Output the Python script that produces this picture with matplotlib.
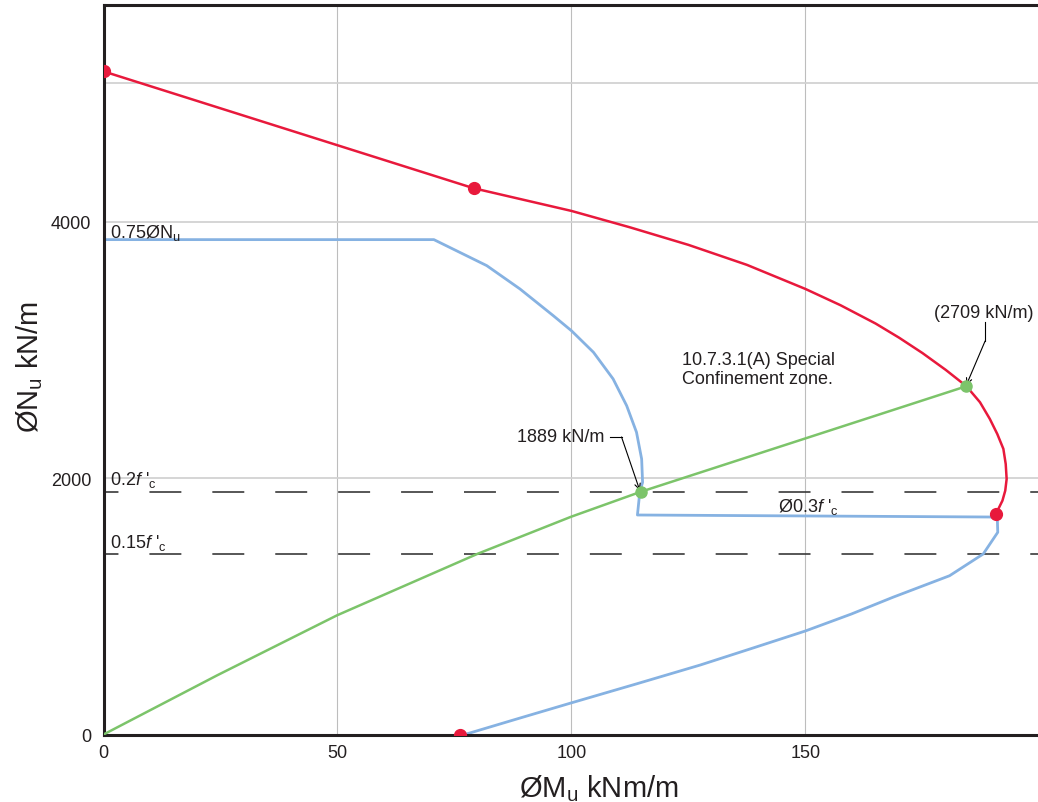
import matplotlib
matplotlib.use("Agg")
import matplotlib.pyplot as plt

plt.rcParams['font.family'] = ['Liberation Sans', 'DejaVu Sans']
plt.rcParams['mathtext.fontset'] = 'custom'
plt.rcParams['mathtext.rm'] = 'Liberation Sans'
plt.rcParams['mathtext.it'] = 'Liberation Sans:italic'
plt.rcParams['lines.scale_dashes'] = False

# interaction diagram (nominal, red)
red_x = [0, 79.1, 100, 112.5, 125, 137.5, 150, 157.5, 165, 170, 175, 180, 184.4,
         187.3, 189.4, 191.0, 192.3, 192.8, 193.0, 192.7, 192.1, 190.7]
red_y = [5175, 4263, 4086, 3958, 3821, 3665, 3477, 3350, 3207, 3097, 2977, 2845, 2718,
         2593, 2463, 2345, 2229, 2111, 1994, 1903, 1825, 1721]
red_pts_x = [0, 79.1, 190.7, 76.1]
red_pts_y = [5175, 4263, 1721, 0]

# design curve (blue)
blue_x = [0, 70.6, 81.9, 89.0, 96.1, 100.0, 104.7, 108.9, 111.8, 113.9, 115.0, 115.2, 114.6, 114.1,
          191.0, 191.1, 188.0, 180.8, 168.7, 159.8, 150.0, 138.8, 127.5, 113.8, 99.9, 88.5, 77.2]
blue_y = [3862, 3862, 3659, 3477, 3269, 3151, 2983, 2775, 2566, 2359, 2150, 1968, 1890, 1713,
          1697, 1578, 1409, 1239, 1071, 940, 808, 675, 542, 394, 246, 123, 0]

# load path (green)
green_x = [0, 24.3, 49.9, 80.0, 99.9, 114.8, 184.4]
green_y = [0, 462, 930, 1411, 1699, 1894, 2718]
green_pts_x = [114.8, 184.4]
green_pts_y = [1894, 2718]

lim_02 = 1894
lim_015 = 1411

xticks = [0, 50, 100, 150]
yticks = [0, 2000, 4000]
ygrid = [2000, 4000, 5085]

RED = '#e8193c'
BLUE = '#86b2e2'
GREEN = '#7cc46a'
TXT = '#231f20'

fig = plt.figure(figsize=(10.38, 8.03), dpi=100)
ax = fig.add_axes([103.5 / 1038, 67.5 / 803, 934.5 / 1038, 729.5 / 803])
ax.set_xlim(0, 199.7)
ax.set_ylim(0, 5693)

# grid
for x in xticks[1:]:
    ax.axvline(x, color='#bdbdbd', lw=0.8, zorder=0)
for y in ygrid:
    ax.axhline(y, color='#d2d2d2', lw=1.3, zorder=0)

# limit lines
for y in [lim_02, lim_015]:
    ax.axhline(y, color='#3a3a3a', lw=1.2, linestyle=(12.6, (23, 22.3)), zorder=1)

ax.plot(blue_x, blue_y, color=BLUE, lw=2.0, zorder=2)
ax.plot(green_x, green_y, color=GREEN, lw=1.8, zorder=3)
ax.plot(red_x, red_y, color=RED, lw=1.8, zorder=4)
ax.plot(red_pts_x, red_pts_y, 'o', color=RED, ms=8.5, zorder=5)
ax.plot(green_pts_x, green_pts_y, 'o', color=GREEN, ms=8, zorder=5)

# labels on lines
ax.text(1.4, 3885, '0.75ØN$_\\mathregular{u}$', fontsize=13, color=TXT, va='baseline')
ax.text(1.4, 1955, "0.2$\\mathit{f}$ '$_\\mathregular{c}$", fontsize=13, color=TXT, va='baseline')
ax.text(1.4, 1463, "0.15$\\mathit{f}$ '$_\\mathregular{c}$", fontsize=13, color=TXT, va='baseline')
ax.text(144.1, 1744, "Ø0.3$\\mathit{f}$ '$_\\mathregular{c}$", fontsize=13, color=TXT, va='baseline')
ax.text(123.6, 2853, '10.7.3.1(A) Special\nConfinement zone.', fontsize=13, color=TXT,
        va='center', linespacing=1.1)

# 1889 callout
ax.text(107.0, 2322, '1889 kN/m', fontsize=13, color=TXT, ha='right', va='center')
ax.plot([108.2, 110.7], [2322, 2322], color='black', lw=0.8)
ax.annotate('', xy=(114.6, 1905), xytext=(110.7, 2322),
            arrowprops=dict(arrowstyle='->', color='black', lw=0.8, shrinkA=0, shrinkB=0))

# 2709 callout
ax.text(188.1, 3297, '(2709 kN/m)', fontsize=13, color=TXT, ha='center', va='center')
ax.plot([188.4, 188.4], [3219, 3071], color='black', lw=0.8)
ax.annotate('', xy=(184.4, 2728), xytext=(188.4, 3071),
            arrowprops=dict(arrowstyle='->', color='black', lw=0.8, shrinkA=0, shrinkB=0))

ax.set_xticks(xticks)
ax.set_yticks(yticks)
ax.tick_params(length=0, labelsize=13, labelcolor=TXT)
ax.tick_params(axis='y', pad=9)
ax.tick_params(axis='x', pad=7)

for s in ['left', 'bottom', 'top']:
    ax.spines[s].set_linewidth(2.2)
    ax.spines[s].set_color(TXT)
ax.spines['right'].set_visible(False)

ax.set_xlabel('ØM$_\\mathregular{u}$ kNm/m', fontsize=21, color=TXT)
ax.set_ylabel('ØN$_\\mathregular{u}$ kN/m', fontsize=21, color=TXT)
ax.xaxis.set_label_coords(0.530, -0.052)
ax.yaxis.set_label_coords(-0.063, 0.505)

fig.savefig('out.png', dpi=100)
